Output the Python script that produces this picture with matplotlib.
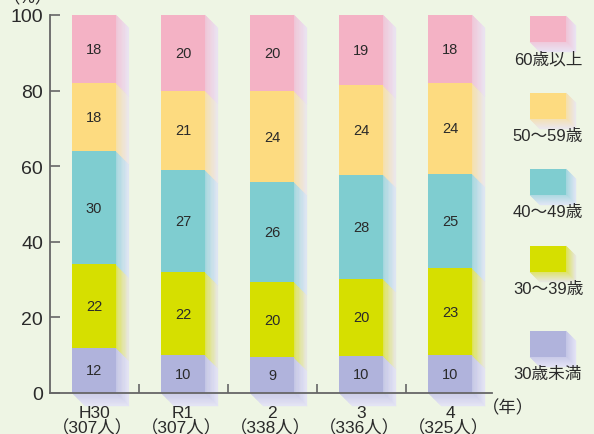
import matplotlib
matplotlib.use("Agg")
import matplotlib.pyplot as plt
import numpy as np
from matplotlib.colors import to_rgb
from matplotlib.patches import Polygon, Rectangle

plt.rcParams['font.family'] = ['Liberation Sans', 'Noto Sans CJK JP', 'DejaVu Sans']

years = ["H30", "R1", "2", "3", "4"]
people = ["307人", "307人", "338人", "336人", "325人"]
groups = ["30歳未満", "30～39歳", "40～49歳", "50～59歳", "60歳以上"]

# shares (%), bottom segment first
under30 = [12.0, 10.0, 9.4, 9.8, 10.0]
age30s = [22.0, 22.0, 20.0, 20.4, 23.0]
age40s = [30.0, 27.0, 26.4, 27.6, 25.0]
age50s = [18.0, 21.0, 24.1, 23.6, 24.0]
over60 = [18.0, 20.0, 20.1, 18.6, 18.0]
# printed labels
lab_under30 = [12, 10, 9, 10, 10]
lab_30s = [22, 22, 20, 20, 23]
lab_40s = [30, 27, 26, 28, 25]
lab_50s = [18, 21, 24, 24, 24]
lab_60 = [18, 20, 20, 19, 18]

series = [under30, age30s, age40s, age50s, over60]
labels = [lab_under30, lab_30s, lab_40s, lab_50s, lab_60]
colors = ["#b0b3dc", "#d6df00", "#7fcdd0", "#fddb80", "#f4b2c5"]

bg = "#eef5e4"
fade = np.array(to_rgb("#e9e8f8"))
txt = "#2a2a2a"

def blend(c, t):
    c = np.array(to_rgb(c))
    return tuple(c * (1 - t) + fade * t)

fig = plt.figure(figsize=(5.94, 4.35), dpi=100, facecolor=bg)
ax = fig.add_axes([50/594, 41/435, 442/594, 378/435])
ax.set_facecolor(bg)

x = np.arange(len(years))
w = 0.49
dx = 13/89
dy = 13/3.78
nstrip = 10

def side_face(xr, y0, y1, col):
    for k in range(nstrip):
        t0 = k / nstrip
        t1 = (k + 1) / nstrip
        pts = [(xr + t0*dx, y0 - t0*dy), (xr + t0*dx, y1 - t0*dy),
               (xr + t1*dx, y1 - t1*dy), (xr + t1*dx, y0 - t1*dy)]
        c = blend(col, 0.35 + 0.6*t0)
        ax.add_patch(Polygon(pts, closed=True, facecolor=c, edgecolor=c,
                             lw=0.3, clip_on=False, zorder=1))

bottom = np.zeros(len(years))
for vals, labs, col in zip(series, labels, colors):
    for i in range(len(years)):
        side_face(x[i] + w/2, bottom[i], bottom[i] + vals[i], col)
    ax.bar(x, vals, w, bottom=bottom, color=col, zorder=2)
    for i in range(len(years)):
        ax.text(x[i], bottom[i] + vals[i]/2, str(labs[i]), ha='center',
                va='center', fontsize=10.5, color=txt, zorder=4)
    bottom += np.array(vals)

# bottom faces under the bars
for i in range(len(years)):
    for k in range(nstrip):
        t0 = k / nstrip
        t1 = (k + 1) / nstrip
        xl = x[i] - w/2
        xr = x[i] + w/2
        pts = [(xl + t0*dx, -t0*dy), (xr + t0*dx, -t0*dy),
               (xr + t1*dx, -t1*dy), (xl + t1*dx, -t1*dy)]
        c = blend(colors[0], 0.45 + 0.5*t0)
        ax.add_patch(Polygon(pts, closed=True, facecolor=c, edgecolor=c,
                             lw=0.3, clip_on=False, zorder=1))

ax.set_xlim(-0.495, 4.47)
ax.set_ylim(0, 100)
for s in ['top', 'right']:
    ax.spines[s].set_visible(False)
for s in ['left', 'bottom']:
    ax.spines[s].set_color('#666666')
    ax.spines[s].set_linewidth(1.3)
    ax.spines[s].set_zorder(5)
ax.set_yticks([0, 20, 40, 60, 80, 100])
ax.tick_params(axis='y', direction='in', length=7, width=1.2, color='#666666',
               labelsize=14, labelcolor=txt, pad=5)
ax.set_xticks(x[:-1] + 0.5)
ax.set_xticklabels([])
ax.tick_params(axis='x', direction='in', length=6.5, width=1.2, color='#666666')

for i in range(len(years)):
    ax.text(x[i], -6.4, years[i], ha='center', va='baseline', fontsize=12.5,
            color=txt)
    ax.text(x[i] - 0.02, -10.3, "（" + people[i] + "）", ha='center',
            va='baseline', fontsize=12.5, color=txt)
ax.text(4.36, -3.7, "（年）", ha='left', va='center', fontsize=12.5, color=txt)
fig.text(28/594, 1.0 - 3/435, "（%）", ha='center', va='baseline', fontsize=12.5,
         color=txt)

# legend drawn in pixel space
lg = fig.add_axes([0, 0, 1, 1])
lg.set_xlim(0, 594)
lg.set_ylim(435, 0)
lg.axis('off')
lg.patch.set_alpha(0)
leg_top = [17, 94, 170, 247, 332]
for j, (name, col) in enumerate(zip(groups[::-1], colors[::-1])):
    yt = leg_top[j]
    x0, x1, hh = 530, 566, 26
    d = 10
    for k in range(nstrip):
        t0 = k / nstrip
        t1 = (k + 1) / nstrip
        pts = [(x1 + t0*d, yt + t0*d), (x1 + t0*d, yt + hh + t0*d),
               (x1 + t1*d, yt + hh + t1*d), (x1 + t1*d, yt + t1*d)]
        c = blend(col, 0.35 + 0.6*t0)
        lg.add_patch(Polygon(pts, closed=True, facecolor=c, edgecolor=c, lw=0.3))
        pts = [(x0 + t0*d, yt + hh + t0*d), (x1 + t0*d, yt + hh + t0*d),
               (x1 + t1*d, yt + hh + t1*d), (x0 + t1*d, yt + hh + t1*d)]
        c = blend(col, 0.45 + 0.5*t0)
        lg.add_patch(Polygon(pts, closed=True, facecolor=c, edgecolor=c, lw=0.3))
    lg.add_patch(Rectangle((x0, yt), x1 - x0, hh, facecolor=col, edgecolor='none'))
    lg.text(548, yt + 43, name, ha='center', va='center', fontsize=12, color=txt)

fig.savefig("out.png", dpi=100, facecolor=bg)
